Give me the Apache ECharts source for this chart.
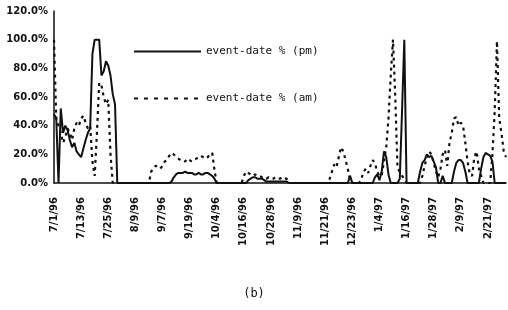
<!DOCTYPE html>
<html>
<head>
<meta charset="utf-8">
<script src="https://cdn.jsdelivr.net/npm/echarts@6/dist/echarts.min.js"></script>
<style>
  html, body { margin: 0; padding: 0; background: #fff; }
  #main { width: 508px; height: 310px; }
</style>
</head>
<body>
<div id="main"></div>
<script>
// tick labels, one every 12 days on the category axis
var tickLabels = ['7/1/96', '7/13/96', '7/25/96', '8/9/96', '9/7/96', '9/19/96', '10/4/96',
  '10/16/96', '10/28/96', '11/9/96', '11/21/96', '12/23/96', '1/4/97', '1/16/97',
  '1/28/97', '2/9/97', '2/21/97'];

// event-date % (pm), one value per day
var pmValues = [
  48, 45, 0, 52, 35, 40, 37, 30, 25, 28,
  22, 20, 18, 24, 30, 35, 38, 90, 100, 100,
  100, 75, 78, 85, 82, 75, 62, 55, 0, 0,
  0, 0, 0, 0, 0, 0, 0, 0, 0, 0,
  0, 0, 0, 0, 0, 0, 0, 0, 0, 0,
  0, 0, 1, 4, 6, 7, 7, 7, 8, 7,
  7, 7, 6, 6, 7, 6, 6, 7, 7, 6,
  5, 3, 0, 0, 0, 0, 0, 0, 0, 0,
  0, 0, 0, 0, 0, 0, 2, 3, 4, 4,
  3, 3, 3, 2, 1, 1, 1, 1, 1, 1,
  1, 1, 1, 1, 0, 0, 0, 0, 0, 0,
  0, 0, 0, 0, 0, 0, 0, 0, 0, 0,
  0, 0, 0, 0, 0, 0, 0, 0, 0, 0,
  0, 5, 0, 0, 0, 0, 0, 0, 0, 0,
  0, 0, 4, 6, 2, 8, 22, 18, 6, 0,
  0, 0, 0, 3, 50, 100, 0, 0, 0, 0,
  0, 0, 8, 14, 16, 20, 18, 19, 15, 11,
  0, 0, 5, 0, 0, 0, 0, 8, 14, 16,
  16, 14, 8, 0, 0, 0, 0, 0, 0, 10,
  18, 21, 20, 19, 15, 0, 0, 0, 0, 0,
  0
];

// event-date % (am)
var amValues = [
  100, 45, 40, 35, 28, 32, 38, 35, 30, 38,
  42, 40, 45, 47, 42, 38, 40, 15, 5, 35,
  70, 68, 60, 55, 58, 20, 0, 0, 0, 0,
  0, 0, 0, 0, 0, 0, 0, 0, 0, 0,
  0, 0, 0, 8, 10, 12, 11, 10, 12, 15,
  16, 19, 21, 20, 18, 17, 16, 16, 15, 17,
  16, 15, 16, 17, 18, 19, 18, 17, 18, 20,
  21, 9, 0, 0, 0, 0, 0, 0, 0, 0,
  0, 0, 0, 0, 5, 8, 7, 6, 5, 6,
  5, 5, 4, 4, 3, 4, 3, 3, 4, 3,
  3, 4, 3, 3, 0, 0, 0, 0, 0, 0,
  0, 0, 0, 0, 0, 0, 0, 0, 0, 0,
  0, 0, 3, 8, 13, 11, 18, 25, 22, 16,
  10, 2, 0, 0, 0, 0, 3, 8, 10, 7,
  12, 16, 14, 8, 5, 5, 15, 25, 45, 75,
  100, 60, 10, 8, 5, 3, 0, 0, 0, 0,
  0, 0, 0, 5, 12, 18, 22, 20, 14, 8,
  4, 10, 20, 23, 12, 28, 35, 45, 46, 40,
  42, 40, 28, 15, 6, 5, 18, 22, 10, 5,
  0, 0, 0, 0, 20, 50, 99, 45, 35, 22,
  18
];

var days = pmValues.map(function (v, i) {
  return i % 12 === 0 ? tickLabels[i / 12] : '';
});

var myChart = echarts.init(document.getElementById('main'));
var lblFont = { fontFamily: 'DejaVu Sans', fontWeight: 'bold', fontSize: 10, color: '#111' };
var legendText = { fontFamily: 'DejaVu Sans Mono', fontSize: 11, color: '#111' };

myChart.setOption({
  animation: false,
  backgroundColor: '#fff',
  title: {
    text: '(b)',
    left: 'center',
    top: 283,
    textStyle: { fontFamily: 'DejaVu Sans Mono', fontSize: 12, fontWeight: 'normal', color: '#111' }
  },
  legend: [
    {
      data: ['event-date % (pm)'],
      left: 133, top: 46, padding: 0,
      itemWidth: 67, itemHeight: 14,
      itemStyle: { color: 'transparent', borderWidth: 0 },
      textStyle: legendText
    },
    {
      data: ['event-date % (am)'],
      left: 133, top: 93, padding: 0,
      itemWidth: 67, itemHeight: 14,
      itemStyle: { color: 'transparent', borderWidth: 0 },
      lineStyle: { type: [4, 6] },
      textStyle: legendText
    }
  ],
  grid: { left: 54, right: 2, top: 11, bottom: 127 },
  xAxis: {
    type: 'category',
    data: days,
    boundaryGap: false,
    axisLine: { lineStyle: { color: '#111', width: 1.5 } },
    axisTick: { show: false },
    axisLabel: Object.assign({ interval: 0, rotate: 90, margin: 14 }, lblFont)
  },
  yAxis: {
    type: 'value',
    min: 0, max: 120, interval: 20,
    axisLine: { show: true, lineStyle: { color: '#111', width: 1.5 } },
    axisTick: { show: false },
    splitLine: { show: false },
    axisLabel: Object.assign({
      margin: 6,
      formatter: function (v) { return v.toFixed(1) + '%'; }
    }, lblFont)
  },
  series: [
    {
      name: 'event-date % (pm)',
      type: 'line',
      data: pmValues,
      symbol: 'none',
      color: '#111',
      lineStyle: { color: '#111', width: 2 }
    },
    {
      name: 'event-date % (am)',
      type: 'line',
      data: amValues,
      symbol: 'none',
      color: '#111',
      lineStyle: { color: '#111', width: 2.2, type: [3, 4] }
    }
  ]
});
</script>
</body>
</html>
